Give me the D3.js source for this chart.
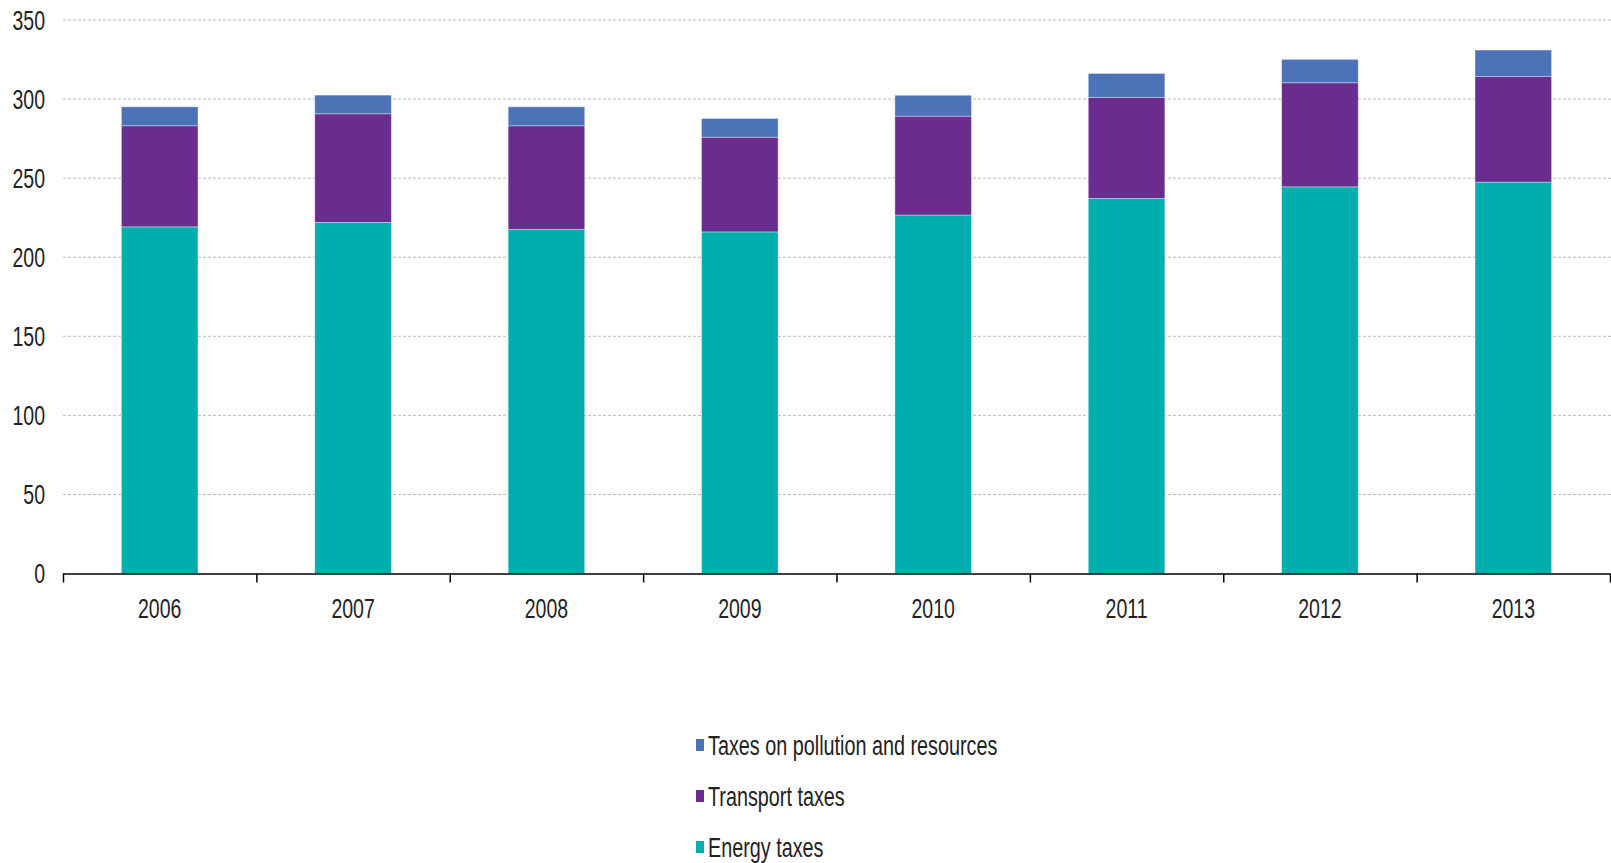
<!DOCTYPE html>
<html>
<head>
<meta charset="utf-8">
<script src="https://cdn.jsdelivr.net/npm/d3@7"></script>
<style>
  html, body { margin: 0; padding: 0; background: #fff; }
  svg { display: block; }
  text { font-family: "Liberation Sans", Arial, sans-serif; fill: #222; }
</style>
</head>
<body>
<svg id="chart" width="1611" height="863"></svg>
<script>
const years = ["2006","2007","2008","2009","2010","2011","2012","2013"];
const energyTaxes    = [219.2, 222.0, 217.6, 216.0, 226.7, 237.2, 244.5, 247.5];
const transportTaxes = [ 63.9,  68.7,  65.5,  59.9,  62.5,  63.9,  65.8,  66.7];
const pollutionTaxes = [ 12.0,  11.8,  12.0,  11.8,  13.2,  15.1,  14.8,  16.8];
const seriesNames  = ["Energy taxes", "Transport taxes", "Taxes on pollution and resources"];
const seriesColors = ["#00AEAD", "#6A2D8D", "#4C72B8"];
const yTicks = [0, 50, 100, 150, 200, 250, 300, 350];

const svg = d3.select("#chart");
const mLeft = 63, mRight = 1610, mTop = 20, mBottom = 573.5;
const TS = 1.4; // vertical text stretch

const rows = years.map((yr, i) => ({
  year: yr,
  "Energy taxes": energyTaxes[i],
  "Transport taxes": transportTaxes[i],
  "Taxes on pollution and resources": pollutionTaxes[i]
}));
const stack = d3.stack().keys(seriesNames)(rows);

const x = d3.scaleBand().domain(years).range([mLeft, mRight]).paddingInner(0.604).paddingOuter(0.302);
const y = d3.scaleLinear().domain([0, 350]).range([mBottom, mTop]);
const color = d3.scaleOrdinal().domain(seriesNames).range(seriesColors);

// gridlines
svg.append("g").selectAll("line").data(yTicks.filter(d => d > 0)).join("line")
  .attr("x1", mLeft).attr("x2", 1611)
  .attr("y1", d => y(d)).attr("y2", d => y(d))
  .attr("stroke", "#b8b8b8").attr("stroke-width", 1).attr("stroke-dasharray", "3,2");

// y labels
svg.append("g").selectAll("text").data(yTicks).join("text")
  .attr("text-anchor", "end")
  .attr("font-size", "19.5px")
  .attr("dy", "0.35em")
  .attr("transform", d => `translate(45,${y(d)}) scale(1,${TS})`)
  .text(d => d);

// bars
svg.append("g").selectAll("g").data(stack).join("g")
  .attr("fill", d => color(d.key))
  .selectAll("rect").data(d => d).join("rect")
  .attr("x", d => x(d.data.year))
  .attr("width", x.bandwidth())
  .attr("y", d => y(d[1]))
  .attr("height", d => y(d[0]) - y(d[1]))
  .attr("stroke", "rgba(255,255,255,0.45)")
  .attr("stroke-width", 0.8);

// x axis line with boundary ticks
const xb = d3.scaleLinear().domain([0, years.length]).range([mLeft, mRight]);
const axisG = svg.append("g").attr("transform", `translate(0,${mBottom})`)
  .call(d3.axisBottom(xb).tickValues(d3.range(years.length + 1)).tickSize(9).tickFormat(""));
axisG.select(".domain").attr("stroke", "#000").attr("stroke-width", 1.5).attr("d", `M${mLeft},0.5H${mRight}`);
axisG.selectAll(".tick line").attr("stroke", "#000").attr("stroke-width", 1.5);

// x labels
svg.append("g").selectAll("text").data(years).join("text")
  .attr("text-anchor", "middle")
  .attr("font-size", "19.5px")
  .attr("dy", "0.35em")
  .attr("transform", d => `translate(${x(d) + x.bandwidth() / 2},608) scale(1,${TS})`)
  .text(d => d);

// legend (reverse order)
const legendItems = seriesNames.slice().reverse();
const lg = svg.append("g");
legendItems.forEach((name, i) => {
  const cy = 745 + i * 51;
  lg.append("rect").attr("x", 696).attr("y", cy - 6).attr("width", 8).attr("height", 12).attr("fill", color(name));
  lg.append("text").attr("font-size", "19.8px").attr("dy", "0.35em")
    .attr("transform", `translate(708,${cy}) scale(1,${TS})`).text(name);
});
</script>
</body>
</html>
